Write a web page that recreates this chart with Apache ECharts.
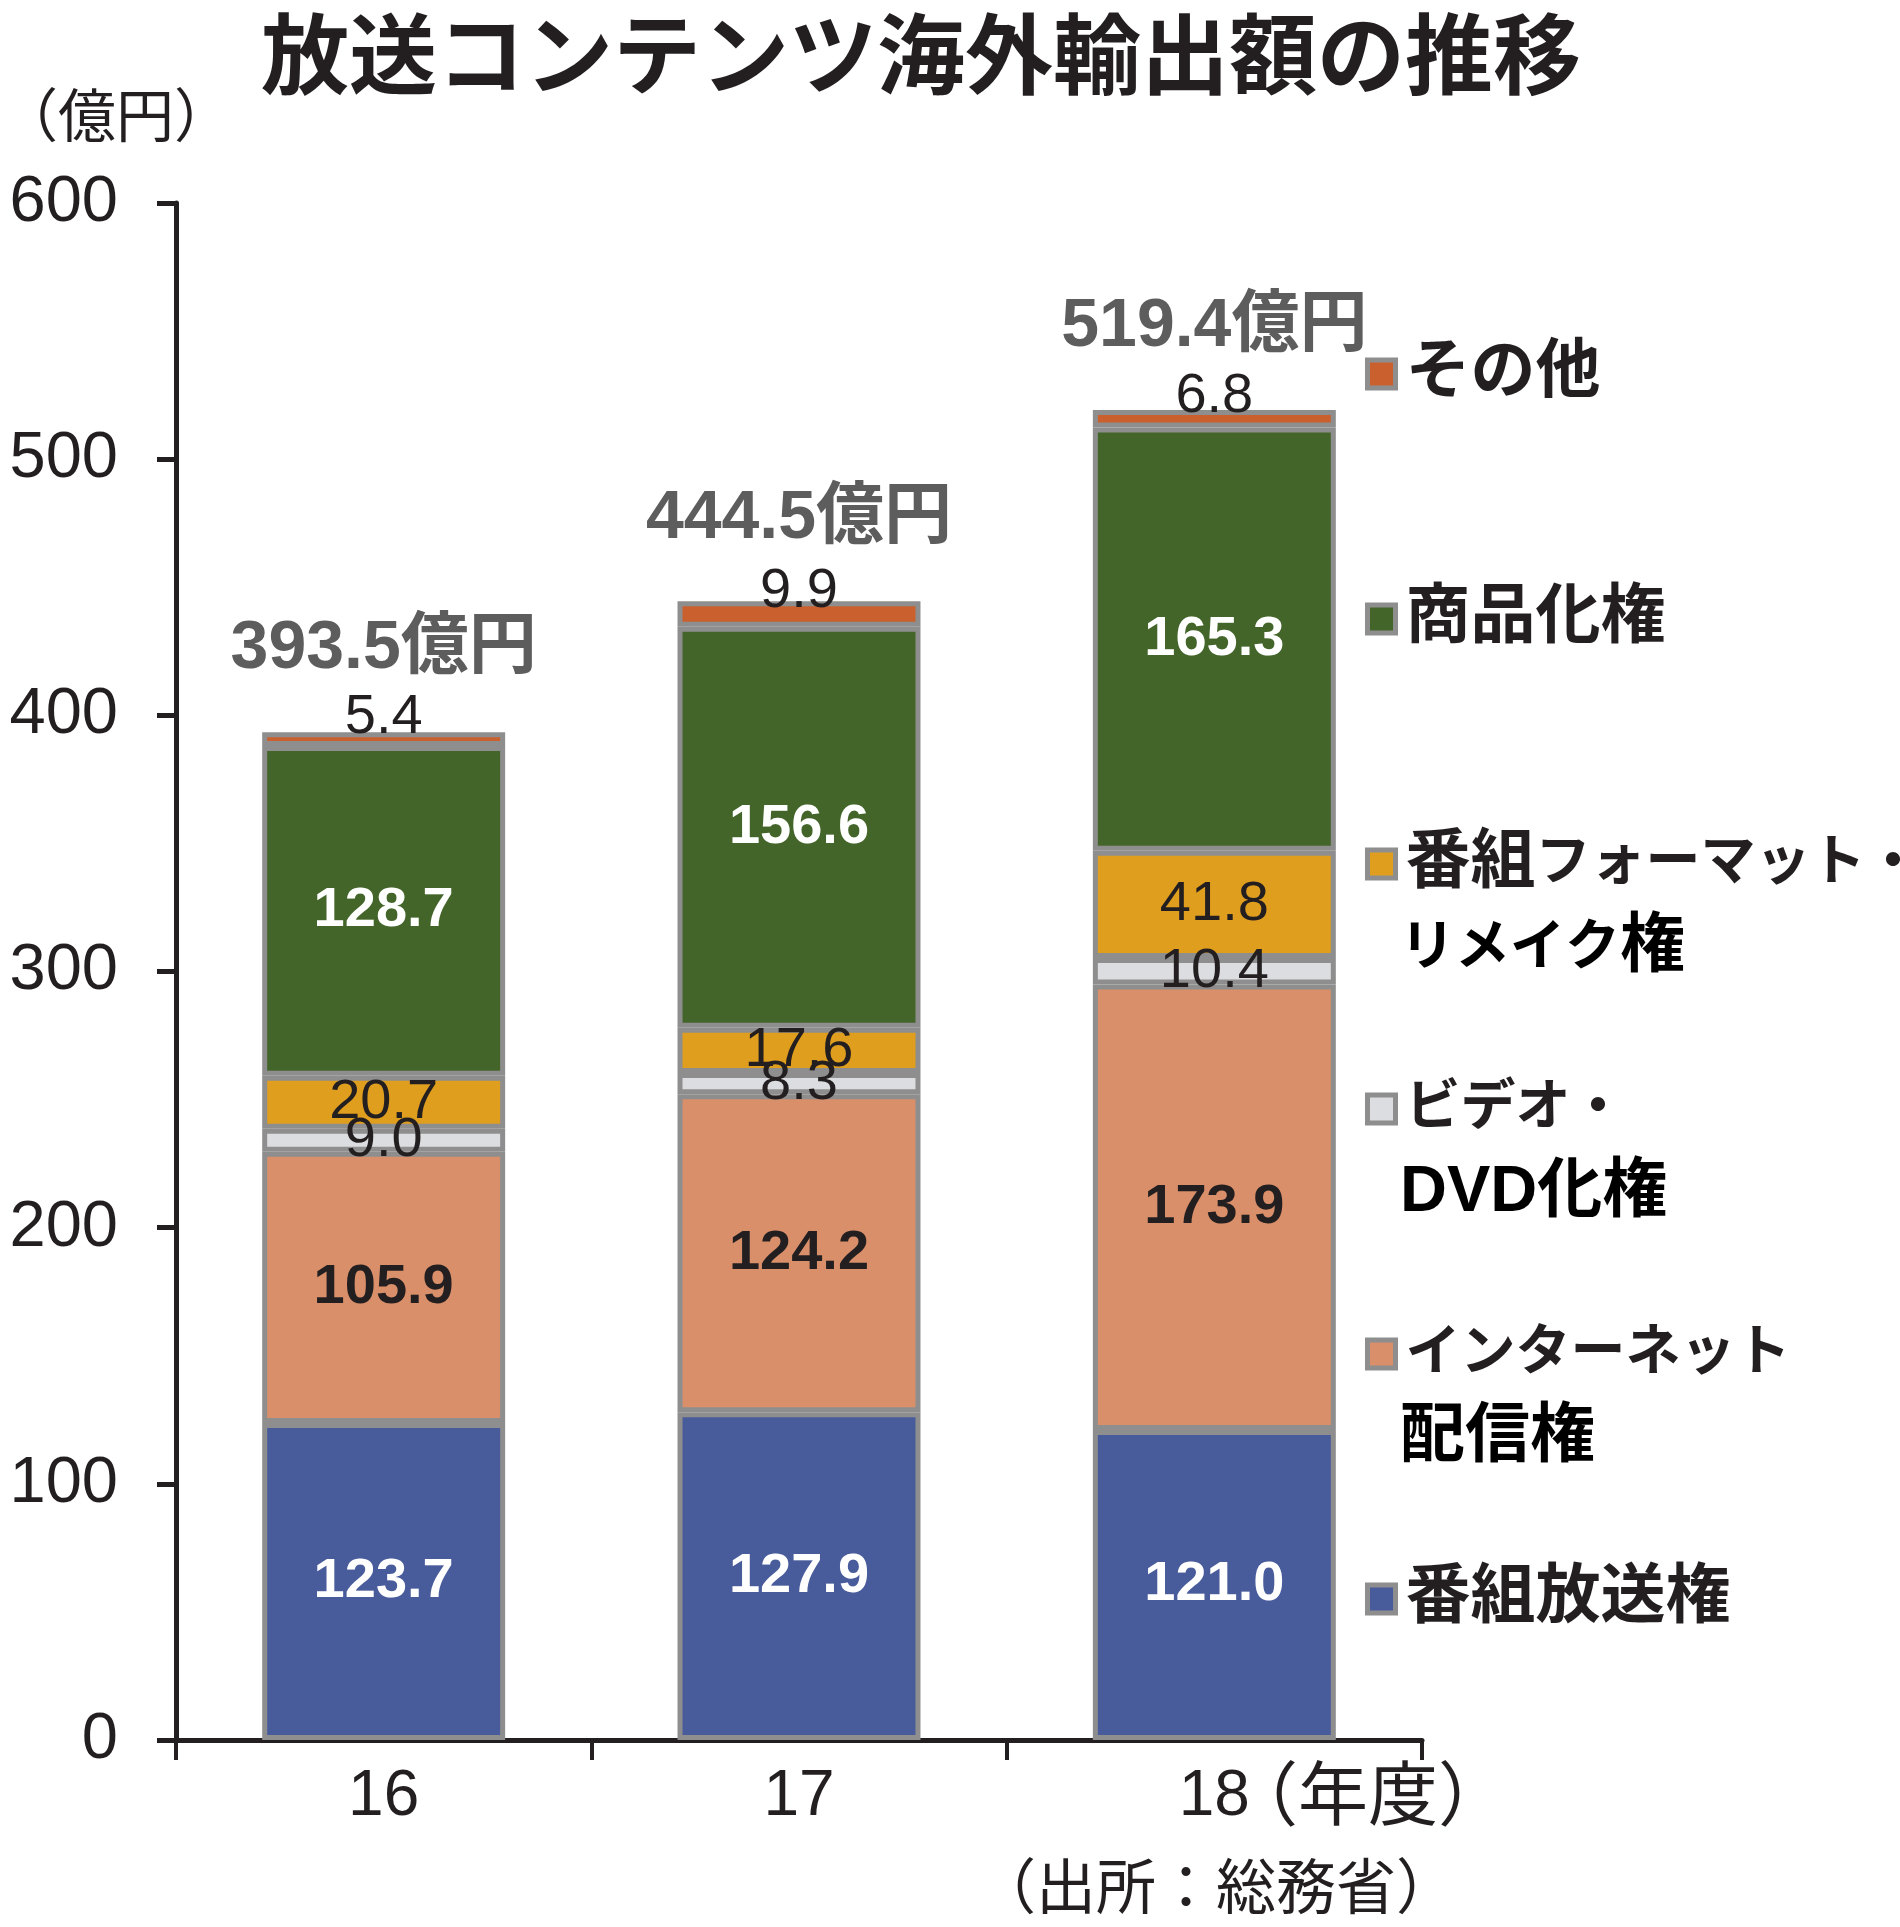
<!DOCTYPE html>
<html>
<head>
<meta charset="utf-8">
<script src="https://cdn.jsdelivr.net/npm/echarts@6/dist/echarts.min.js"></script>
<style>
html,body{margin:0;padding:0;background:#fff;}
#chart{width:1900px;height:1927px;}
</style>
</head>
<body>
<div id="chart"></div>
<script>
// ---- data ----
const categories = ['16', '17', '18'];
const seriesNames = ['番組放送権', 'インターネット配信権', 'ビデオ・DVD化権', '番組フォーマット・リメイク権', '商品化権', 'その他'];
const broadcast = [123.7, 127.9, 121.0];
const internet = [105.9, 124.2, 173.9];
const video = [9.0, 8.3, 10.4];
const formatRights = [20.7, 17.6, 41.8];
const merchandise = [128.7, 156.6, 165.3];
const other = [5.4, 9.9, 6.8];
const totals = [393.5, 444.5, 519.4];
const yTicks = [0, 100, 200, 300, 400, 500, 600];
const legendFirstLine = ['番組放送権', 'インターネット', 'ビデオ・', '番組フォーマット・', '商品化権', 'その他'];
const legendSecondLine = ['', '配信権', 'DVD化権', 'リメイク権', '', ''];

const colors = ['#485b9b', '#d98f69', '#dcdde0', '#e09e1f', '#44652a', '#c9602e'];
const labelColors = ['#ffffff', '#231f20', '#231f20', '#231f20', '#ffffff', '#231f20'];
const seriesValues = [broadcast, internet, video, formatRights, merchandise, other];

const FONT = "'Liberation Sans','Noto Sans CJK JP',sans-serif";
const TXT = '#231f20';
const chart = echarts.init(document.getElementById('chart'));

// rich text: katakana (proportional in reference) drawn a bit smaller than kanji
const richStyles = {
  h: { fontFamily: FONT, fontSize: 65, fontWeight: 'bold', color: TXT, lineHeight: 70 },
  k: { fontFamily: FONT, fontSize: 55, fontWeight: 'bold', color: TXT, lineHeight: 70 }
};
function toRich(s) {
  let out = '', cur = null, buf = '';
  for (const ch of s) {
    const isKata = /[\u30A0-\u30FF]/.test(ch);
    const t = isKata ? 'k' : 'h';
    if (t !== cur && buf) { out += '{' + cur + '|' + buf + '}'; buf = ''; }
    cur = t; buf += ch;
  }
  if (buf) out += '{' + cur + '|' + buf + '}';
  return out;
}

const series = seriesNames.map((name, i) => ({
  name: name,
  type: 'bar',
  stack: 'total',
  barWidth: '58.5%',
  data: seriesValues[i],
  itemStyle: { color: colors[i], borderColor: '#8e8e8e', borderWidth: 5 },
  label: {
    show: true,
    position: 'inside',
    offset: i === 5 ? [0, -22] : [0, 0],
    formatter: p => p.value.toFixed(1),
    color: labelColors[i],
    fontFamily: FONT,
    fontSize: 56,
    fontWeight: (i === 0 || i === 4 || i === 1) ? 'bold' : 'normal'
  },
  emphasis: { disabled: true }
}));

series.push({
  name: '合計',
  type: 'line',
  data: totals,
  symbol: 'circle',
  symbolSize: 1,
  showSymbol: true,
  itemStyle: { color: 'rgba(0,0,0,0)' },
  lineStyle: { opacity: 0 },
  silent: true,
  z: 10,
  label: {
    show: true,
    position: 'top',
    distance: 48,
    formatter: p => p.value.toFixed(1) + '億円',
    color: '#5d5d5d',
    fontFamily: FONT,
    fontSize: 68,
    fontWeight: 'bold'
  }
});

const legendOrder = seriesNames.slice().reverse();

const graphics = [
  { type: 'text', left: 0, top: 92, style: { text: '（億円）', font: "normal 58px " + FONT, fill: TXT } },
  { type: 'text', left: 1228, top: 1766, style: { text: '（年度）', font: "normal 70px " + FONT, fill: TXT } },
  { type: 'text', left: 976, top: 1862, style: { text: '（出所：総務省）', font: "normal 60px " + FONT, fill: TXT } }
];
// second lines of legend labels
const legendTop = 334, legendStep = 245;
legendOrder.forEach((name, k) => {
  const idx = seriesNames.indexOf(name);
  if (legendSecondLine[idx]) {
    graphics.push({
      type: 'text', left: 1400, top: legendTop + k * legendStep + 92,
      style: { text: toRich(legendSecondLine[idx]), rich: richStyles }
    });
  }
});

chart.setOption({
  animation: false,
  backgroundColor: '#ffffff',
  title: {
    text: '放送コンテンツ海外輸出額の推移',
    left: 256, top: 14,
    textStyle: { fontFamily: FONT, fontSize: 88, fontWeight: 'bold', color: TXT }
  },
  grid: { left: 176, right: 478, top: 203, bottom: 187, containLabel: false },
  legend: {
    orient: 'vertical',
    left: 1360, top: legendTop,
    itemWidth: 28, itemHeight: 28,
    itemGap: legendStep - 70,
    icon: 'rect',
    selectedMode: false,
    data: legendOrder,
    itemStyle: { borderColor: '#8e8e8e', borderWidth: 5 },
    formatter: name => toRich(legendFirstLine[seriesNames.indexOf(name)]),
    textStyle: { fontFamily: FONT, fontSize: 65, lineHeight: 70, fontWeight: 'bold', color: TXT, padding: [0, 0, 0, 5], rich: richStyles }
  },
  xAxis: {
    type: 'category',
    data: categories,
    axisLine: { lineStyle: { color: TXT, width: 5 } },
    axisTick: { show: true, length: 20, lineStyle: { color: TXT, width: 4 } },
    axisLabel: { fontFamily: FONT, fontSize: 64, color: TXT, margin: 25 }
  },
  yAxis: {
    type: 'value',
    min: yTicks[0], max: yTicks[yTicks.length - 1], interval: 100,
    axisLine: { show: true, lineStyle: { color: TXT, width: 5 } },
    axisTick: { show: true, length: 19, lineStyle: { color: TXT, width: 5 } },
    splitLine: { show: false },
    axisLabel: { fontFamily: FONT, fontSize: 65, color: TXT, margin: 58 }
  },
  graphic: graphics,
  series: series
});
</script>
</body>
</html>
